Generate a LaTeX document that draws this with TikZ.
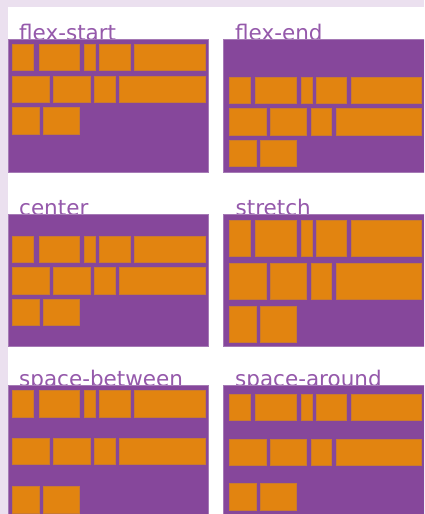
\documentclass[tikz,border=0pt]{standalone}
\usepackage{fontspec}
\setmainfont{DejaVu Sans}
\definecolor{lav}{HTML}{EBE0EF}
\definecolor{panel}{HTML}{86479B}
\definecolor{paneledge}{HTML}{A57AB5}
\definecolor{item}{HTML}{E28410}
\definecolor{itemedge}{HTML}{C97A30}
\definecolor{title}{HTML}{9559AB}
\tikzset{
  panelbox/.style={fill=panel, draw=paneledge, line width=0.8pt},
  itembox/.style={fill=item, draw=itemedge, line width=0.6pt},
  titletext/.style={anchor=base west, inner sep=0pt, text=title,
    font=\fontsize{21.5}{25}\selectfont},
}
\newcommand\flexrows[5]{%
  \foreach \a/\b in {12.7/33.7,39/79.3,84.3/95.7,99.7/130,134.3/205}
    \draw[itembox] ({#1+\a},#2) rectangle ({#1+\b},{#2+#5});
  \foreach \a/\b in {12.7/49.3,53.7/90,94.3/115,119.3/205}
    \draw[itembox] ({#1+\a},#3) rectangle ({#1+\b},{#3+#5});
  \foreach \a/\b in {12.7/39.3,43.7/79.3}
    \draw[itembox] ({#1+\a},#4) rectangle ({#1+\b},{#4+#5});
}
\begin{document}
\begin{tikzpicture}[x=1pt,y=-1pt]
\useasboundingbox (0,0) rectangle (424,514);
\clip (0,0) rectangle (424,514);
\fill[white] (0,0) rectangle (424,514);
\fill[lav] (0,0) rectangle (424,7);
\fill[lav] (0,0) rectangle (7.5,514);
% titles
\node[titletext] (t1) at (19,40.5) {flex-start};
\node[titletext] (t2) at (235,40.5) {flex-end};
\node[titletext] (t3) at (19,215.5) {center};
\node[titletext] (t4) at (235.5,215.5) {stretch};
\node[titletext] (t5) at (19,386.2) {space-between};
\node[titletext] (t6) at (235,386.2) {space-around};
% panels
\draw[panelbox] (7.9,39.7) rectangle (208.8,172.4);
\draw[panelbox] (223.1,39.7) rectangle (424.2,172.4);
\draw[panelbox] (7.9,214.7) rectangle (208.8,346.4);
\draw[panelbox] (223.1,214.7) rectangle (424.2,346.4);
\draw[panelbox] (7.9,385.4) rectangle (208.8,518.4);
\draw[panelbox] (223.1,385.4) rectangle (424.2,518.4);
% items
\flexrows{0}{44.2}{75.8}{107.4}{26.4}
\flexrows{216.6}{77.2}{108.7}{140.1}{26.1}
\flexrows{0}{236}{267.7}{299}{26.3}
\flexrows{216.6}{220}{263.3}{306.3}{35.8}
\flexrows{0}{390.6}{438.1}{486.7}{26.3}
\flexrows{216.6}{394.4}{439.1}{483.6}{26.3}
\end{tikzpicture}
\end{document}
